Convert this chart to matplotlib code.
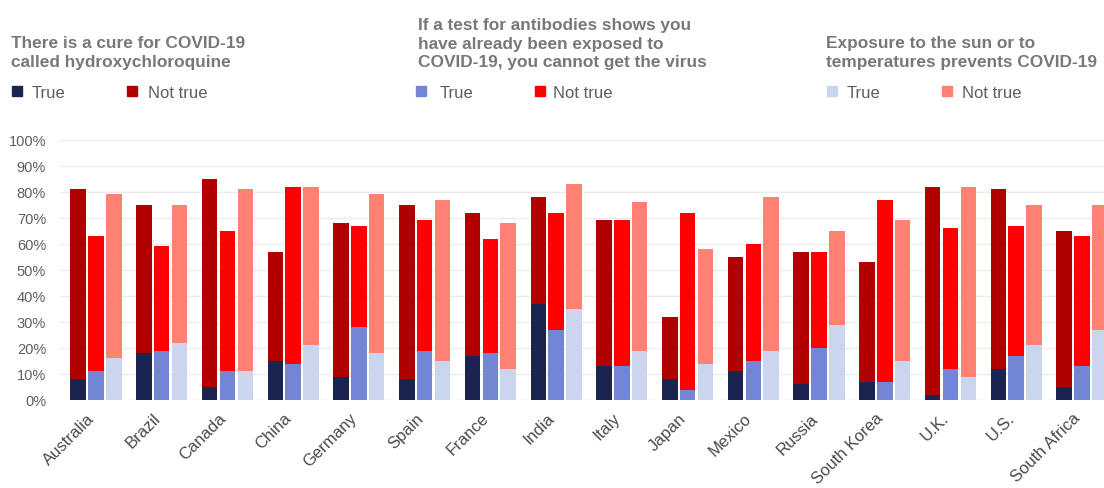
import matplotlib.pyplot as plt
from matplotlib.patches import Rectangle
from matplotlib.ticker import PercentFormatter
from matplotlib.transforms import ScaledTranslation
import numpy as np

plt.rcParams['font.family'] = ['Liberation Sans', 'DejaVu Sans']

countries = ['Australia', 'Brazil', 'Canada', 'China', 'Germany', 'Spain', 'France', 'India',
             'Italy', 'Japan', 'Mexico', 'Russia', 'South Korea', 'U.K.', 'U.S.', 'South Africa']

# hydroxychloroquine
hcq_true = [8, 18, 5, 15, 9, 8, 17, 37, 13, 8, 11, 6, 7, 2, 12, 5]
hcq_not_true = [73, 57, 80, 42, 59, 67, 55, 41, 56, 24, 44, 51, 46, 80, 69, 60]
# antibodies
ab_true = [11, 19, 11, 14, 28, 19, 18, 27, 13, 4, 15, 20, 7, 12, 17, 13]
ab_not_true = [52, 40, 54, 68, 39, 50, 44, 45, 56, 68, 45, 37, 70, 54, 50, 50]
# sun / temperatures
sun_true = [16, 22, 11, 21, 18, 15, 12, 35, 19, 14, 19, 29, 15, 9, 21, 27]
sun_not_true = [63, 53, 70, 61, 61, 62, 56, 48, 57, 44, 59, 36, 54, 73, 54, 48]

headings = ['There is a cure for COVID-19\ncalled hydroxychloroquine',
            'If a test for antibodies shows you\nhave already been exposed to\nCOVID-19, you cannot get the virus',
            'Exposure to the sun or to\ntemperatures prevents COVID-19']

true_colors = ['#1b2350', '#7386d5', '#ccd5ee']
not_true_colors = ['#b00000', '#ff0000', '#ff8173']

W, H = 1104, 489
fig = plt.figure(figsize=(W / 100, H / 100), dpi=100)
ax = fig.add_axes([60 / W, (H - 401) / H, (W - 60) / W, (401 - 140.7) / H])

x = np.arange(len(countries))
step = 0.271
width = 0.236
series = [(hcq_true, hcq_not_true), (ab_true, ab_not_true), (sun_true, sun_not_true)]
for k, (t, nt) in enumerate(series):
    pos = x + (k - 1) * step
    ax.bar(pos, t, width, color=true_colors[k], zorder=2)
    ax.bar(pos, nt, width, bottom=t, color=not_true_colors[k], zorder=2)

ax.set_ylim(0, 100)
ax.set_xlim(-0.5477, 15.335)
ax.set_yticks(range(0, 101, 10))
ax.yaxis.set_major_formatter(PercentFormatter(decimals=0))
ax.grid(axis='y', color='#ececec', linewidth=1, zorder=0)
for s in ax.spines.values():
    s.set_visible(False)
ax.tick_params(axis='y', length=0, pad=10, labelsize=10.5, labelcolor='#5e5e5e')
ax.tick_params(axis='x', length=0, pad=11, labelsize=12, labelcolor='#4a4a4a')
ax.set_xticks(x)
ax.set_xticklabels(countries, rotation=45, ha='right', va='center', rotation_mode='anchor')
shift = ScaledTranslation(-4 / 100, 0, fig.dpi_scale_trans)
for lab in ax.get_xticklabels():
    lab.set_transform(lab.get_transform() + shift)

# headings and legends (y = baseline of the last line, in pixels from top)
head_pos = [(11, 66.7), (418, 67), (826, 66.7)]
leg_pos = [(12, 32, 127, 148), (416, 440, 535, 553), (827, 847, 942, 962)]
for k in range(3):
    hx, hy = head_pos[k]
    fig.text(hx / W, 1 - hy / H, headings[k], fontsize=12.4, fontweight='bold',
             color='#787878', va='baseline', ha='left', linespacing=1.28)
    s1, t1, s2, t2 = leg_pos[k]
    fig.patches.append(Rectangle((s1 / W, 1 - 97 / H), 10 / W, 10 / H,
                                 transform=fig.transFigure, color=true_colors[k]))
    fig.patches.append(Rectangle((s2 / W, 1 - 97 / H), 10 / W, 10 / H,
                                 transform=fig.transFigure, color=not_true_colors[k]))
    fig.text(t1 / W, 1 - 98 / H, 'True', fontsize=12, color='#5e5e5e', va='baseline')
    fig.text(t2 / W, 1 - 98 / H, 'Not true', fontsize=12, color='#5e5e5e', va='baseline')

fig.savefig('out.png', dpi=100)
